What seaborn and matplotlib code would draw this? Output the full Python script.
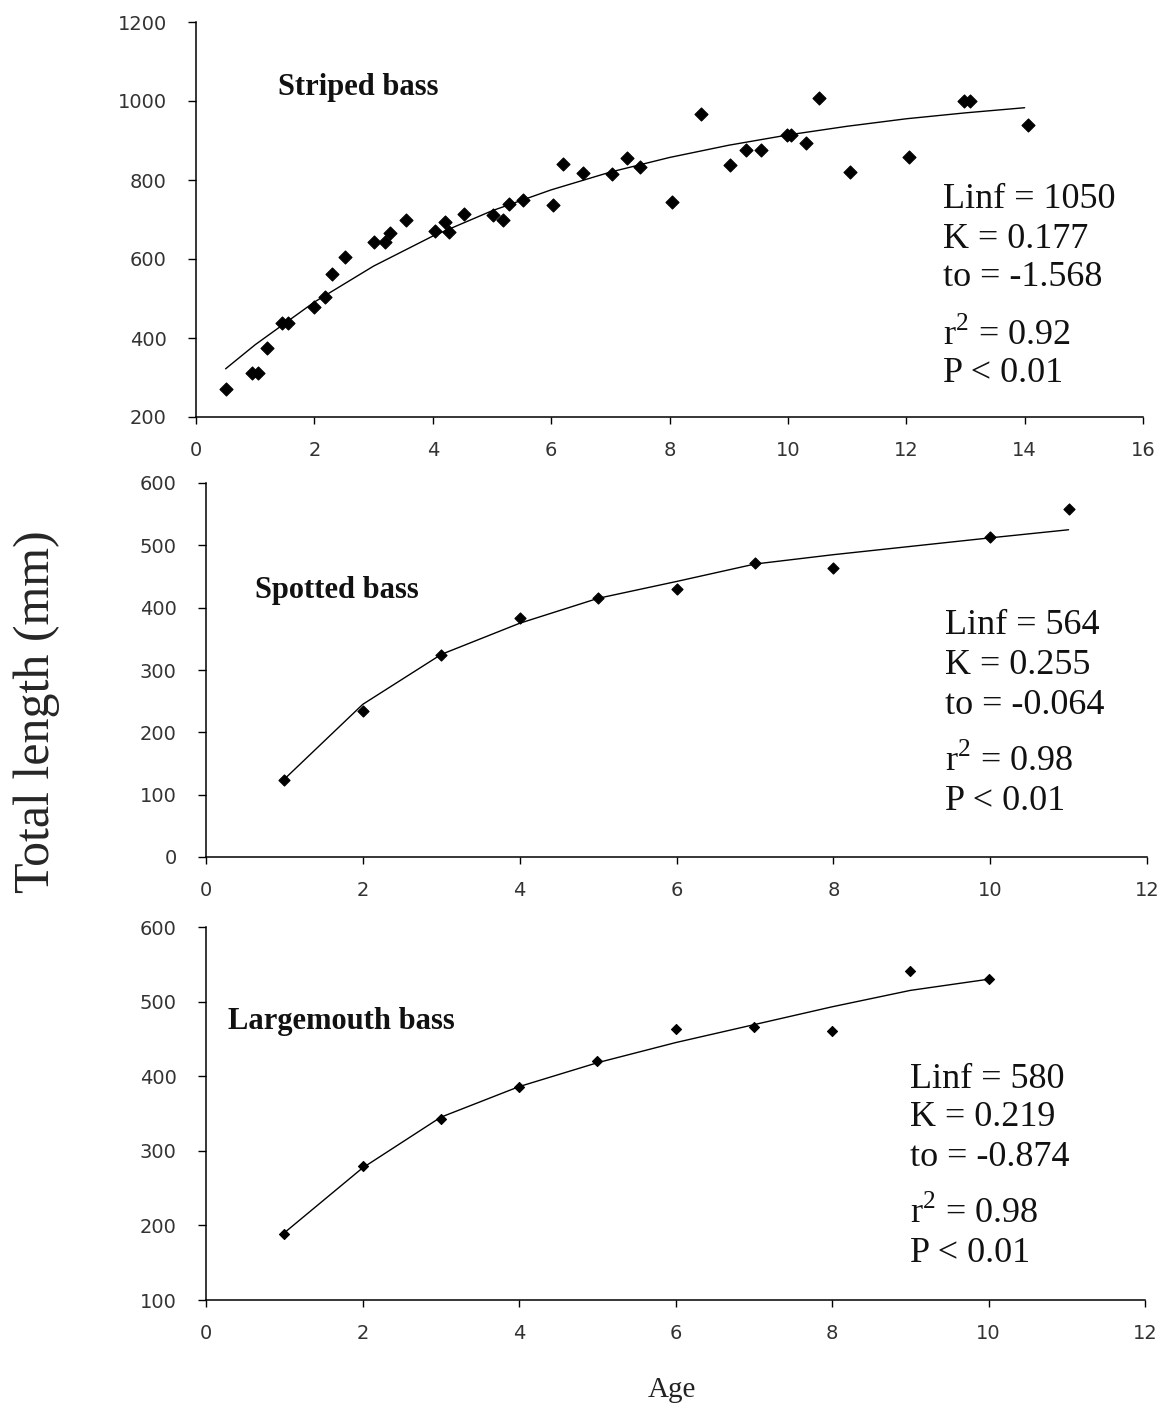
import numpy as np
import pandas as pd
import matplotlib
matplotlib.use("Agg")
import matplotlib.pyplot as plt
import seaborn as sns

# --- data ---
# striped bass
striped_age = [0.5, 0.95, 1.05, 1.2, 1.45, 1.55, 2.0, 2.18, 2.29, 2.52, 3.0, 3.19, 3.27,
               3.54, 4.03, 4.21, 4.28, 4.52, 5.02, 5.19, 5.29, 5.53, 6.04, 6.2, 6.54,
               7.03, 7.28, 7.5, 8.04, 8.54, 9.03, 9.29, 9.54, 9.98, 10.06, 10.3, 10.53,
               11.05, 12.05, 12.98, 13.08, 14.05]
striped_tl = [270, 311, 311, 374, 437, 437, 479, 503, 561, 606, 644, 644, 667,
              699, 672, 693, 668, 714, 711, 699, 738, 749, 736, 840, 817,
              814, 855, 832, 744, 967, 837, 876, 876, 914, 914, 893, 1007,
              821, 857, 1000, 1000, 939]
striped_fit_age = [0.5, 1, 2, 3, 4, 5, 6, 7, 8, 9, 10, 11, 12, 13, 14]
striped_fit_tl = [322, 383, 491, 582, 658, 722, 775, 820, 857, 888, 914, 936, 955, 970, 983]

# spotted bass
spotted_age = [1, 2, 3, 4, 5, 6, 7, 8, 10, 11]
spotted_tl = [124, 235, 324, 383, 415, 430, 471, 463, 514, 558]
spotted_fit_tl = [125, 245, 325, 375, 415, 442, 470, 485, 512, 525]

# largemouth bass
large_age = [1, 2, 3, 4, 5, 6, 7, 8, 9, 10]
large_tl = [189, 279, 342, 385, 420, 463, 466, 460, 541, 530]
large_fit_tl = [190, 277, 345, 386, 418, 445, 469, 493, 515, 530]

species = ["Striped bass", "Spotted bass", "Largemouth bass"]
stats = [
    ["Linf = 1050", "K = 0.177", "to = -1.568", "r$^{2}$ = 0.92", "P < 0.01"],
    ["Linf = 564", "K = 0.255", "to = -0.064", "r$^{2}$ = 0.98", "P < 0.01"],
    ["Linf = 580", "K = 0.219", "to = -0.874", "r$^{2}$ = 0.98", "P < 0.01"],
]

sns.set_style("ticks")
plt.rcParams["font.family"] = ["Liberation Serif", "DejaVu Serif"]
plt.rcParams["mathtext.fontset"] = "custom"
plt.rcParams["mathtext.rm"] = "Liberation Serif"

W, H = 1173, 1408
fig = plt.figure(figsize=(W / 100, H / 100), dpi=100)

def px_axes(l, r, t, b):
    return fig.add_axes([l / W, 1 - b / H, (r - l) / W, (b - t) / H])

ax1 = px_axes(196, 1143, 22, 417)
ax2 = px_axes(206, 1147, 483, 857)
ax3 = px_axes(206, 1145, 927, 1300)

panels = [
    (ax1, striped_age, striped_tl, striped_fit_age, striped_fit_tl, 44,
     (0, 16, 2), (200, 1200, 200)),
    (ax2, spotted_age, spotted_tl, spotted_age, spotted_fit_tl, 32,
     (0, 12, 2), (0, 600, 100)),
    (ax3, large_age, large_tl, large_age, large_fit_tl, 26,
     (0, 12, 2), (100, 600, 100)),
]

for ax, xa, ya, xf, yf, ms, xr, yr in panels:
    pts = pd.DataFrame({"age": xa, "tl": ya})
    fit = pd.DataFrame({"age": xf, "tl": yf})
    sns.lineplot(data=fit, x="age", y="tl", ax=ax, color="black", linewidth=1.0,
                 sort=True, estimator=None)
    sns.scatterplot(data=pts, x="age", y="tl", ax=ax, marker="D", s=ms,
                    color="black", edgecolor="black", linewidth=0.8, zorder=3)
    ax.set_xlim(xr[0], xr[1])
    ax.set_ylim(yr[0], yr[1])
    ax.set_xticks(np.arange(xr[0], xr[1] + 1, xr[2]))
    ax.set_yticks(np.arange(yr[0], yr[1] + 1, yr[2]))
    ax.set_xlabel("")
    ax.set_ylabel("")
    sns.despine(ax=ax)
    for s in ["left", "bottom"]:
        ax.spines[s].set_color("black")
        ax.spines[s].set_linewidth(1.1)
    ax.tick_params(axis="y", length=6, width=1, pad=15, colors="black",
                   labelcolor="#333333")
    ax.tick_params(axis="x", length=5, width=1, pad=12, colors="black",
                   labelcolor="#333333")
    for lab in ax.get_xticklabels() + ax.get_yticklabels():
        lab.set_fontfamily("DejaVu Sans")
        lab.set_fontsize(14)
    ax.set_facecolor("white")

# species names
name_pos = [(278, 88), (255, 591), (228, 1021)]
for name, (x, y) in zip(species, name_pos):
    fig.text(x / W, 1 - y / H, name, fontsize=22, fontweight="bold",
             ha="left", va="center", color="#111111")

# fit statistics
stat_x = [943, 945, 910]
stat_y = [[200, 240, 278, 335, 374],
          [625, 665, 705, 761, 801],
          [1079, 1118, 1158, 1213, 1253]]
for lines, x, ys in zip(stats, stat_x, stat_y):
    for txt, y in zip(lines, ys):
        fig.text(x / W, 1 - y / H, txt, fontsize=26, ha="left", va="center",
                 color="#111111")

fig.text(37 / W, 1 - 712 / H, "Total length (mm)", fontsize=36, rotation=90,
         ha="center", va="center")
fig.text(672 / W, 1 - 1390 / H, "Age", fontsize=21, ha="center", va="center",
         color="#222222")

fig.savefig("out.png", dpi=100, facecolor="white")
